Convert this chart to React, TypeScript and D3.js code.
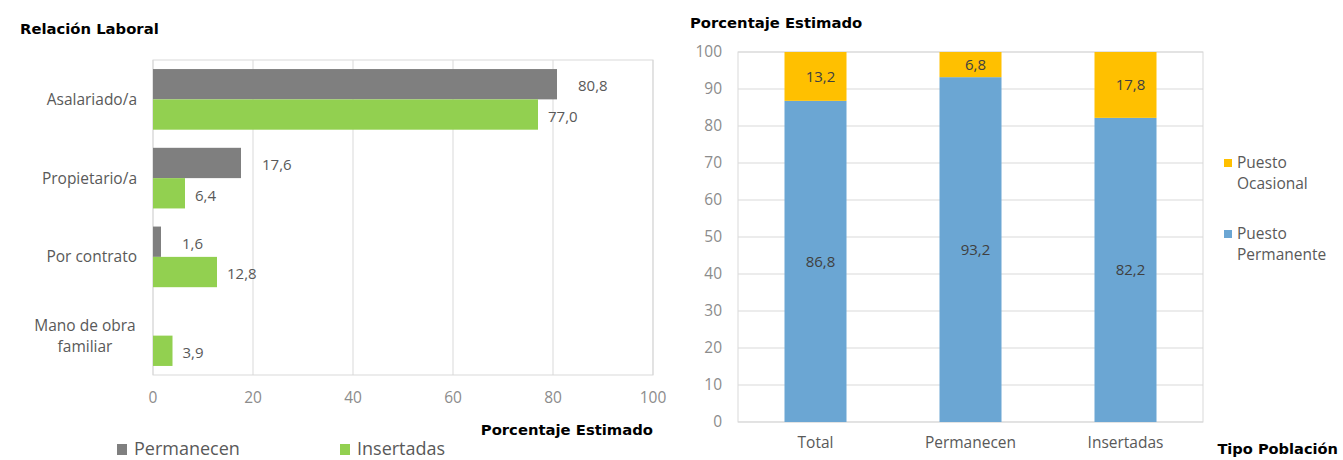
import React from 'react'
import * as d3 from 'd3'

// Relación laboral (left chart)
const categories = ['Asalariado/a', 'Propietario/a', 'Por contrato', 'Mano de obra\nfamiliar']
const permanecen = [80.8, 17.6, 1.6, null]
const insertadas = [77.0, 6.4, 12.8, 3.9]
const barTicks = [0, 20, 40, 60, 80, 100]

// Tipo de puesto (right chart)
const poblaciones = ['Total', 'Permanecen', 'Insertadas']
const puestoPermanente = [86.8, 93.2, 82.2]
const puestoOcasional = [13.2, 6.8, 17.8]
const colTicks = [0, 10, 20, 30, 40, 50, 60, 70, 80, 90, 100]

const FONT = '"DejaVu Sans", sans-serif'
const LIGHT = '"Open Sans", sans-serif'
const fmt = (v: number) => v.toFixed(1).replace('.', ',')

const App = () => {
  // left chart scales
  const x = d3.scaleLinear().domain([0, 100]).range([153, 653])
  const y = d3
    .scaleBand()
    .domain(categories)
    .range([60, 375])
    .paddingInner(0.23)
    .paddingOuter(0.115)
  const ySub = d3
    .scaleBand()
    .domain(['Permanecen', 'Insertadas'])
    .range([0, y.bandwidth()])

  // right chart scales
  const xc = d3
    .scaleBand()
    .domain(poblaciones)
    .range([738, 1203])
    .paddingInner(0.6)
    .paddingOuter(0.3)
  const yc = d3.scaleLinear().domain([0, 100]).range([422, 52])

  const table = poblaciones.map((p, i) => ({
    name: p,
    perm: puestoPermanente[i],
    ocas: puestoOcasional[i]
  }))
  const stacked = d3.stack<any>().keys(['perm', 'ocas'])(table)
  const stackColors: any = { perm: '#6ba6d3', ocas: '#ffc000' }

  const series = [
    { name: 'Permanecen', values: permanecen, color: '#7f7f7f', off: 21 },
    { name: 'Insertadas', values: insertadas, color: '#92d050', off: 10 }
  ]

  return (
    <svg width={1343} height={460} style={{ display: 'block', position: 'absolute', left: 0, top: 0 }}>
      <rect width={1343} height={460} fill="#fff" />

      {/* ---------- left chart ---------- */}
      <text x={20} y={29} dy="0.35em" fontFamily={FONT} fontWeight="bold" fontSize={14.8} fill="#000">
        Relación Laboral
      </text>
      {barTicks.map(t => (
        <line key={t} x1={x(t)} x2={x(t)} y1={60} y2={375} stroke="#d9d9d9" />
      ))}
      <rect x={153} y={60} width={500} height={315} fill="none" stroke="#d9d9d9" />
      {series.map(s =>
        categories.map((c, i) => {
          const v = s.values[i]
          if (v == null) return null
          const by = (y(c) as number) + (ySub(s.name) as number)
          return (
            <g key={s.name + c}>
              <rect x={x(0)} y={by} width={x(v) - x(0)} height={ySub.bandwidth()} fill={s.color} />
              <text
                x={x(v) + s.off}
                y={by + ySub.bandwidth() / 2 + 2}
                dy="0.35em"
                fontFamily={LIGHT}
                fontSize={15}
                fill="#595959"
              >
                {fmt(v)}
              </text>
            </g>
          )
        })
      )}
      {categories.map(c => {
        const lines = c.split('\n')
        const cy = (y(c) as number) + y.bandwidth() / 2
        return lines.length === 1 ? (
          <text key={c} x={137} y={cy} dy="0.35em" textAnchor="end" fontFamily={LIGHT} fontSize={15.5} fill="#595959">
            {c}
          </text>
        ) : (
          <text key={c} x={85} y={cy - 10.5} textAnchor="middle" fontFamily={LIGHT} fontSize={15.5} fill="#595959">
            {lines.map((l, k) => (
              <tspan key={l} x={85} dy={k === 0 ? '0.35em' : 21}>
                {l}
              </tspan>
            ))}
          </text>
        )
      })}
      {barTicks.map(t => (
        <text key={t} x={x(t)} y={398} dy="0.35em" textAnchor="middle" fontFamily={LIGHT} fontSize={15.5} fill="#8c8c8c">
          {t}
        </text>
      ))}
      <text x={653} y={430} dy="0.35em" textAnchor="end" fontFamily={FONT} fontWeight="bold" fontSize={14.8} fill="#000">
        Porcentaje Estimado
      </text>
      {series.map((s, i) => (
        <g key={s.name} transform={`translate(${117 + i * 223},449)`}>
          <rect x={0} y={-5} width={10} height={11} fill={s.color} />
          <text x={17} y={0} dy="0.35em" fontFamily={LIGHT} fontSize={18} fill="#595959">
            {s.name}
          </text>
        </g>
      ))}

      {/* ---------- right chart ---------- */}
      <text x={690} y={23} dy="0.35em" fontFamily={FONT} fontWeight="bold" fontSize={14.8} fill="#000">
        Porcentaje Estimado
      </text>
      {colTicks.map(t => (
        <g key={t}>
          <line x1={738} x2={1203} y1={yc(t)} y2={yc(t)} stroke="#d9d9d9" />
          <text x={722} y={yc(t)} dy="0.35em" textAnchor="end" fontFamily={LIGHT} fontSize={15.5} fill="#8c8c8c">
            {t}
          </text>
        </g>
      ))}
      <rect x={738} y={52} width={465} height={370} fill="none" stroke="#d9d9d9" />
      {stacked.map(layer =>
        layer.map(d => (
          <g key={layer.key + d.data.name}>
            <rect
              x={xc(d.data.name)}
              y={yc(d[1])}
              width={xc.bandwidth()}
              height={yc(d[0]) - yc(d[1])}
              fill={stackColors[layer.key]}
            />
            <text
              x={(xc(d.data.name) as number) + xc.bandwidth() / 2 + 5}
              y={(yc(d[0]) + yc(d[1])) / 2}
              dy="0.35em"
              textAnchor="middle"
              fontFamily={LIGHT}
              fontSize={15}
              fill="#404040"
            >
              {fmt(d[1] - d[0])}
            </text>
          </g>
        ))
      )}
      {poblaciones.map(p => (
        <text key={p} x={(xc(p) as number) + xc.bandwidth() / 2} y={443} dy="0.35em" textAnchor="middle" fontFamily={LIGHT} fontSize={15.5} fill="#595959">
          {p}
        </text>
      ))}
      <text x={1338} y={449} dy="0.35em" textAnchor="end" fontFamily={FONT} fontWeight="bold" fontSize={14.6} fill="#000">
        Tipo Población
      </text>
      {[
        { color: '#ffc000', lines: ['Puesto', 'Ocasional'], y: 163 },
        { color: '#6ba6d3', lines: ['Puesto', 'Permanente'], y: 234 }
      ].map(l => (
        <g key={l.lines[1]}>
          <rect x={1224} y={l.y - 4} width={8} height={8} fill={l.color} />
          <text x={1237} y={l.y} fontFamily={LIGHT} fontSize={15.5} fill="#595959">
            {l.lines.map((t, k) => (
              <tspan key={t} x={1237} dy={k === 0 ? '0.35em' : 21}>
                {t}
              </tspan>
            ))}
          </text>
        </g>
      ))}
    </svg>
  )
}

export default App
